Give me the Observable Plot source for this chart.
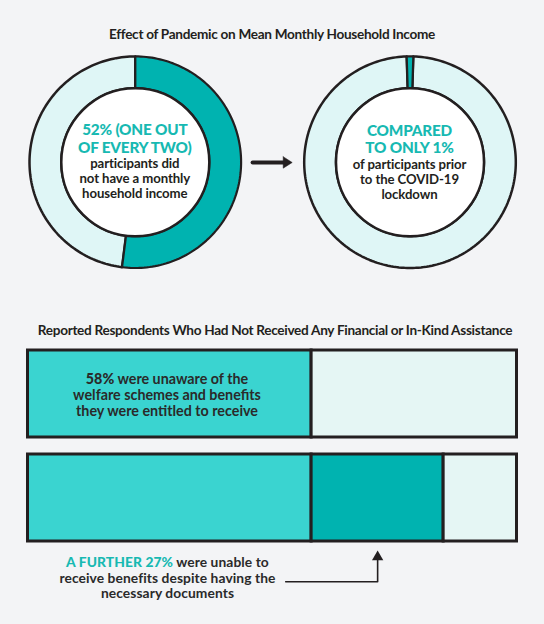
<!DOCTYPE html>
<html><head><meta charset="utf-8">
<script src="https://cdn.jsdelivr.net/npm/d3@7"></script>
<script src="https://cdn.jsdelivr.net/npm/@observablehq/plot@0.6"></script>
<style>
body{margin:0;background:#f3f4f6;font-family:Lato,"Noto Sans",sans-serif;}
#root{position:relative;width:544px;height:624px;overflow:hidden;background:#f3f4f6;}
#root svg{position:absolute;left:0;background:transparent;}
.t{position:absolute;white-space:nowrap;text-align:center;transform:translate(-50%,-50%);color:#231f20;line-height:1;}
.teal{color:#17b9b2;}
</style></head><body><div id="root"></div>
<script>
// ---------- data ----------
const donutPeriods = ["During COVID-19 lockdown", "Prior to COVID-19 lockdown"];
const noIncomeShare = [52, 1];            // % of participants with no monthly household income
const barRows = ["Unaware of schemes", "Unable to receive benefits"];
const barSegments = ["Unaware", "Unable", "Other"];
const row1Values = [58, 42];              // Unaware, Other
const row2Values = [58, 27, 15];          // Unaware, Unable, Other
const title1 = "Effect of Pandemic on Mean Monthly Household Income";
const title2 = "Reported Respondents Who Had Not Received Any Financial or In-Kind Assistance";
const donut1Head = ["52% (ONE OUT", "OF EVERY TWO)"];
const donut1Body = ["participants did", "not have a monthly", "household income"];
const donut2Head = ["COMPARED", "TO ONLY 1%"];
const donut2Body = ["of participants prior", "to the COVID-19", "lockdown"];
const bar1Lines = ["<span style='font-weight:900'>58%</span> were unaware of the", "welfare schemes and benefits", "they were entitled to receive"];
const noteLines = ["<span class='teal' style='font-weight:900'>A FURTHER 27%</span> were unable to", "receive benefits despite having the", "necessary documents"];

// ---------- styling / layout ----------
const INK = "#231f20", DARK = "#00b3b0", BRIGHT = "#3ad4d0", PALE_D = "#dff6f6", PALE_B = "#e5f6f4";
const root = document.getElementById("root");
const W = 544;

// donuts
const centersX = [134.8, 409.5], CY = 161.7, R = 105.8, R0 = 74;
function arcPoly(cx, a0, a1) {
  const n = Math.max(2, Math.ceil((a1 - a0) / 1.5)), pts = [];
  const p = (rad, a) => ({x: cx + rad * Math.sin(a * Math.PI / 180), y: CY - rad * Math.cos(a * Math.PI / 180)});
  for (let i = 0; i <= n; i++) pts.push(p(R, a0 + (a1 - a0) * i / n));
  for (let i = n; i >= 0; i--) pts.push(p(R0, a0 + (a1 - a0) * i / n));
  pts.push(pts[0]);
  return pts;
}
const donutMarks = [];
donutPeriods.forEach((period, i) => {
  const v = noIncomeShare[i];
  const start = i === 0 ? 0 : -v * 1.8;
  const end = start + v * 3.6;
  donutMarks.push(Plot.line(arcPoly(centersX[i], end, start + 360), {x: "x", y: "y", fill: PALE_D, stroke: INK, strokeWidth: 2.5}));
  donutMarks.push(Plot.line(arcPoly(centersX[i], start, end), {x: "x", y: "y", fill: DARK, stroke: INK, strokeWidth: 2.2}));
});
const holes = donutPeriods.map((p, i) => ({x: centersX[i], y: CY}));
donutMarks.push(Plot.dot(holes, {x: "x", y: "y", r: R0, fill: "white", stroke: INK, strokeWidth: 2.5}));
// arrow between donuts
const ax0 = centersX[0] + R + 11.5, ax1 = centersX[1] - R - 12;
donutMarks.push(Plot.line([{x: ax0, y: CY + 0.3}, {x: ax1 - 7, y: CY + 0.3}], {x: "x", y: "y", stroke: INK, strokeWidth: 4}));
donutMarks.push(Plot.line([{x: ax1 - 9, y: CY - 5.5}, {x: ax1, y: CY + 0.3}, {x: ax1 - 9, y: CY + 6}, {x: ax1 - 9, y: CY - 5.5}], {x: "x", y: "y", fill: INK, stroke: INK, strokeWidth: 0.5}));

const donutPlot = Plot.plot({
  width: W, height: 300, margin: 0,
  x: {domain: [0, W], range: [0, W], axis: null},
  y: {domain: [0, 300], range: [0, 300], axis: null},
  style: {background: "transparent", overflow: "visible"},
  marks: donutMarks
});
donutPlot.style.top = "0px";
root.appendChild(donutPlot);

// bars
const barData = [];
row1Values.forEach((v, j) => barData.push({row: barRows[0], seg: j === 0 ? "Unaware" : "Other", value: v}));
row2Values.forEach((v, j) => barData.push({row: barRows[1], seg: barSegments[j], value: v}));
const barPlot = Plot.plot({
  width: W, height: 324, marginLeft: 27.5, marginRight: 27.5, marginTop: 0, marginBottom: 0,
  x: {domain: [0, 100], axis: null},
  y: {domain: barRows, range: [49.5, 241.2], paddingInner: 0.162, paddingOuter: 0, axis: null},
  color: {domain: barSegments, range: [BRIGHT, DARK, PALE_B]},
  style: {background: "transparent", overflow: "visible"},
  marks: [
    Plot.barX(barData, {x: "value", y: "row", fill: "seg", stroke: INK, strokeWidth: 3, strokeLinejoin: "miter"})
  ]
});
barPlot.style.top = "300px";
root.appendChild(barPlot);

// annotation connector (same x scale as bars)
const unableMid = row2Values[0] + row2Values[1] / 2;
const noteStart = 52.7;
const notePlot = Plot.plot({
  width: W, height: 60, marginLeft: 27.5, marginRight: 27.5, marginTop: 0, marginBottom: 0,
  x: {domain: [0, 100], axis: null},
  y: {domain: [0, 60], range: [0, 60], axis: null},
  style: {background: "transparent", overflow: "visible"},
  marks: [
    Plot.line([{x: noteStart, y: 41.3}, {x: unableMid, y: 41.3}, {x: unableMid, y: 18}], {x: "x", y: "y", stroke: INK, strokeWidth: 1.6}),
    Plot.dot([{x: unableMid, y: 16.5}], {x: "x", y: "y", symbol: "triangle", r: 4.2, fill: INK, stroke: "none"})
  ]
});
notePlot.style.top = "540px";
root.appendChild(notePlot);

// ---------- text ----------
function block(x, y, lines, lh, style) {
  const d = document.createElement("div");
  d.className = "t";
  d.style.left = x + "px"; d.style.top = y + "px";
  d.style.lineHeight = lh + "px";
  d.innerHTML = lines.join("<br>");
  Object.assign(d.style, style || {});
  root.appendChild(d);
}
const titleStyle = {fontSize: "13.6px", fontWeight: "700", letterSpacing: "-0.3px"};
block(272, 34, [title1], 16, titleStyle);
block(275, 330, [title2], 16, titleStyle);

const tealHead = {fontSize: "15.3px", fontWeight: "900", color: "#17b9b2", letterSpacing: "-0.2px"};
const blackBody = {fontSize: "13.2px", fontWeight: "700", letterSpacing: "-0.1px"};
block(centersX[0], 137.5, donut1Head, 18.4, tealHead);
block(centersX[0], 178.3, donut1Body, 15, blackBody);
block(centersX[1], 139.5, donut2Head, 17.6, tealHead);
block(centersX[1], 179.8, donut2Body, 15.35, blackBody);

const barText = {fontSize: "14.3px", fontWeight: "700", letterSpacing: "0px", color: "#2a2a2a"};
const noteText = {fontSize: "13.8px", fontWeight: "700", letterSpacing: "0.08px", color: "#2a2a2a"};
block(167, 395, bar1Lines, 15.75, barText);
block(167.5, 577.4, noteLines, 15.4, noteText);
</script></body></html>
